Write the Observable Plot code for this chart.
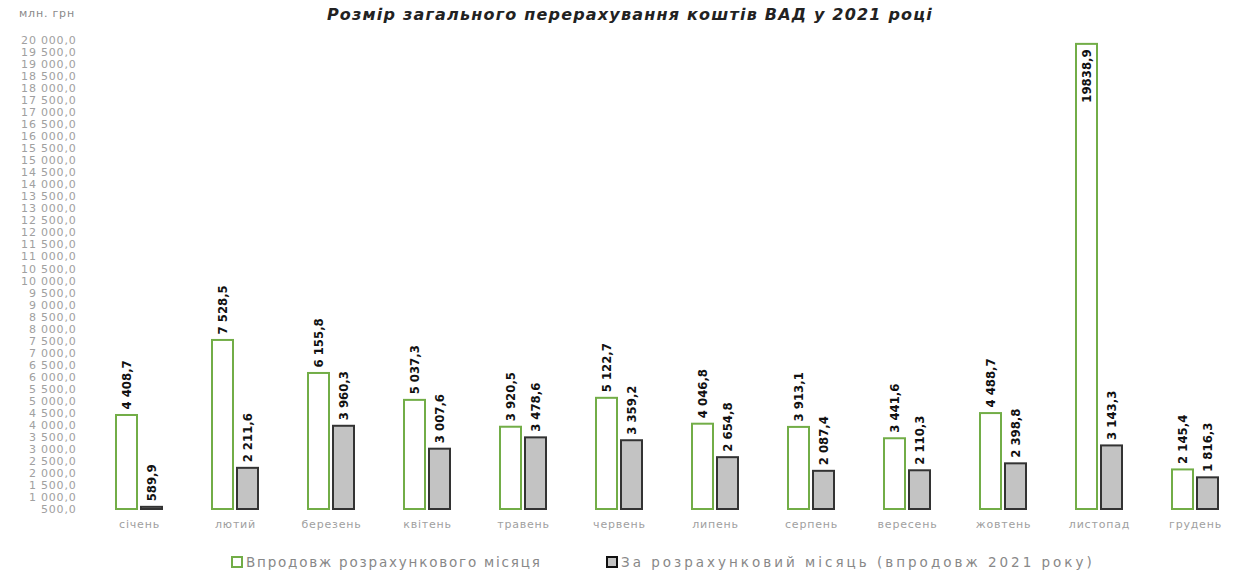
<!DOCTYPE html>
<html>
<head>
<meta charset="utf-8">
<script src="https://cdn.jsdelivr.net/npm/d3@7"></script>
<script src="https://cdn.jsdelivr.net/npm/@observablehq/plot@0.6"></script>
<style>
  html, body { margin: 0; padding: 0; background: #fff; }
  #wrap { position: relative; width: 1246px; height: 573px; overflow: hidden; }
  #title { position: absolute; top: 5px; left: 0; width: 1246px; text-align: center; padding-left: 14px; box-sizing: border-box;
    font-family: "DejaVu Sans", sans-serif; font-style: italic; font-weight: bold; font-size: 16px; letter-spacing: 1.2px; color: #222; }
  #unit { position: absolute; top: 7px; left: 19px; font-family: "DejaVu Sans", sans-serif; font-size: 11px; letter-spacing: 0.8px; color: #8a8a8a; }
  #chart { position: absolute; top: 30px; left: 0; }
  #legend { position: absolute; top: 554px; left: 0; width: 1246px; font-family: "DejaVu Sans", sans-serif; font-size: 13.5px; color: #888; }
  .li { position: absolute; top: 0; white-space: nowrap; }
  .sw { display: inline-block; width: 8px; height: 8px; vertical-align: -1px; margin-right: 3px; }
</style>
</head>
<body>
<div id="wrap">
  <div id="title"></div>
  <div id="unit"></div>
  <div id="chart"></div>
  <div id="legend"></div>
</div>
<script>
const titleText = "Розмір загального перерахування коштів ВАД у 2021 році";
const unitText = "млн. грн";
const months = ["січень","лютий","березень","квітень","травень","червень","липень","серпень","вересень","жовтень","листопад","грудень"];
const seriesNames = ["Впродовж розрахункового місяця", "За розрахунковий місяць (впродовж 2021 року)"];
const duringMonth = [4408.7, 7528.5, 6155.8, 5037.3, 3920.5, 5122.7, 4046.8, 3913.1, 3441.6, 4488.7, 19838.9, 2145.4];
const forMonth = [589.9, 2211.6, 3960.3, 3007.6, 3478.6, 3359.2, 2654.8, 2087.4, 2110.3, 2398.8, 3143.3, 1816.3];
const duringLabels = ["4 408,7","7 528,5","6 155,8","5 037,3","3 920,5","5 122,7","4 046,8","3 913,1","3 441,6","4 488,7","19838,9","2 145,4"];
const forLabels = ["589,9","2 211,6","3 960,3","3 007,6","3 478,6","3 359,2","2 654,8","2 087,4","2 110,3","2 398,8","3 143,3","1 816,3"];
const yTicks = d3.range(500, 20001, 500);
const yMin = 500, yMax = 20000;

const green = "#72ad47", grayFill = "#c3c3c3", grayStroke = "#333333";

const loc = d3.formatLocale({decimal: ",", thousands: " ", grouping: [3], currency: ["", ""]});
const fmt = loc.format(",.1f");

const dataA = months.map((m, i) => ({month: m, series: "a", value: duringMonth[i], label: duringLabels[i]}));
const dataB = months.map((m, i) => ({month: m, series: "b", value: forMonth[i], label: forLabels[i]}));
const all = dataA.concat(dataB);
const outside = all.filter(d => d.value < 18000);
const inside = all.filter(d => d.value >= 18000);

document.getElementById("title").textContent = titleText;
document.getElementById("unit").textContent = unitText;

const labelStyle = {fill: "#111", fontWeight: "bold", fontSize: 13, fontFamily: "Liberation Sans Narrow, DejaVu Sans Condensed, sans-serif"};

const chart = Plot.plot({
  width: 1246,
  height: 509,
  marginLeft: 88,
  marginRight: 0,
  marginTop: 10,
  marginBottom: 30,
  style: {fontFamily: "DejaVu Sans, sans-serif", fontSize: "11px", color: "#a0a0a0", background: "transparent"},
  fx: {domain: months, padding: 0, label: null, tickSize: 0, tickPadding: 11, axis: "bottom"},
  x: {domain: ["a", "b"], axis: null, paddingInner: 0.157, paddingOuter: 0.97},
  y: {domain: [yMin, yMax], ticks: yTicks, tickSize: 0, tickPadding: 15, label: null, tickFormat: fmt},
  marks: [
    Plot.barY(dataA, {fx: "month", x: "series", y1: yMin, y2: "value", fill: "#ffffff", stroke: green, strokeWidth: 2}),
    Plot.barY(dataB, {fx: "month", x: "series", y1: yMin, y2: "value", fill: grayFill, stroke: grayStroke, strokeWidth: 2}),
    Plot.text(outside, {fx: "month", x: "series", y: "value", text: "label", rotate: -90, textAnchor: "start", dy: -6, ...labelStyle}),
    Plot.text(inside, {fx: "month", x: "series", y: "value", text: "label", rotate: -90, textAnchor: "end", dy: 5, ...labelStyle})
  ]
});
chart.querySelectorAll("[aria-label='y-axis tick label'] text, [aria-label='fx-axis tick label'] text").forEach(t => t.setAttribute("letter-spacing", "0.8"));
document.getElementById("chart").appendChild(chart);

const legend = document.getElementById("legend");
const items = [
  {x: 231, name: seriesNames[0], fill: "#fff", stroke: green, ls: "1.8px"},
  {x: 606, name: seriesNames[1], fill: grayFill, stroke: "#111", ls: "3px"}
];
items.forEach(it => {
  const d = document.createElement("div");
  d.className = "li";
  d.style.left = it.x + "px";
  d.style.letterSpacing = it.ls;
  const s = document.createElement("span");
  s.className = "sw";
  s.style.background = it.fill;
  s.style.border = "2px solid " + it.stroke;
  d.appendChild(s);
  d.appendChild(document.createTextNode(it.name));
  legend.appendChild(d);
});
</script>
</body>
</html>
